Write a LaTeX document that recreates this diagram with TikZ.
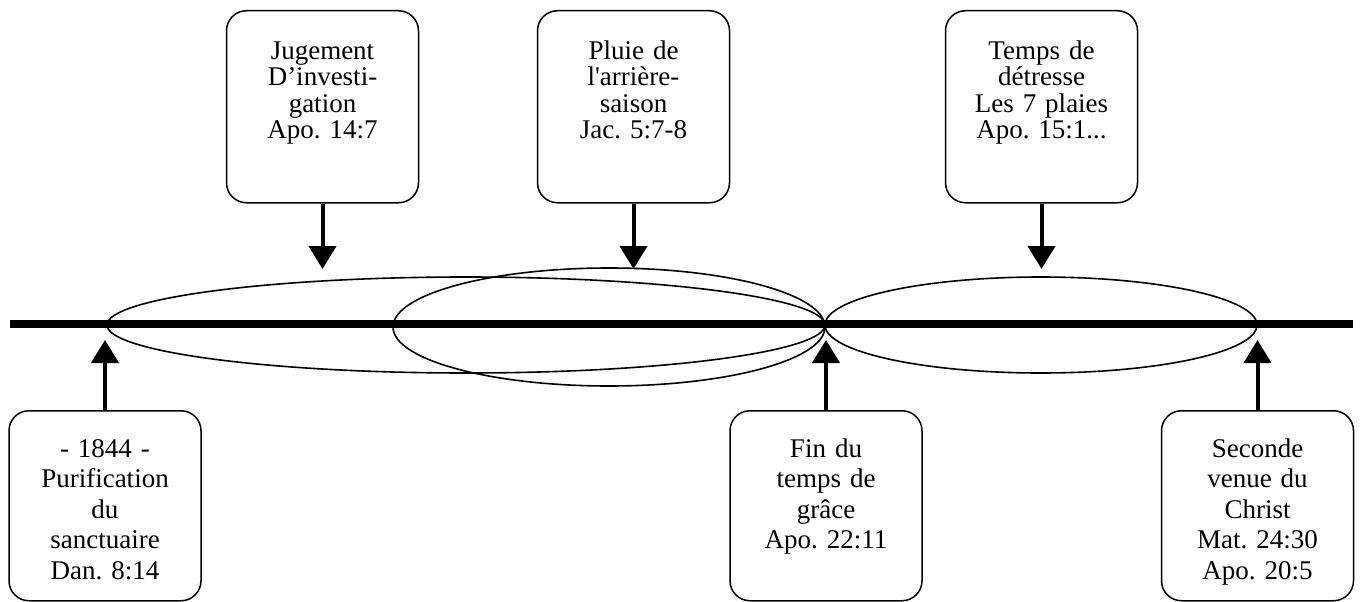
\documentclass[tikz,border=0pt]{standalone}
\usepackage{fontspec}
\setmainfont{Liberation Serif}[Ligatures=TeXOff]
\usetikzlibrary{arrows.meta}
\frenchspacing

\begin{document}
\begin{tikzpicture}[
    x = 1pt, y = -1pt,
    evt/.style = {draw, line width=1.5pt, rounded corners=20pt, anchor=north,
                  inner xsep=6pt, inner ysep=0pt, text width=180pt, align=center,
                  text height=48.5pt, text depth=143.5pt,
                  font=\fontsize{27}{26.5}\selectfont},
   evtb/.style = {evt, text height=46.5pt, text depth=143.5pt,
                  font=\fontsize{27}{30.5}\selectfont},
    arr/.style = {line width=4pt, -{Triangle[width=27pt,length=23pt]}},
    prd/.style = {line width=1.6pt}
                    ]
\useasboundingbox (0,0) rectangle (1361,602);
% time line
\coordinate (L) at (10,324);
\coordinate (R) at (1353,324);
\draw[line width=7.5pt] (L) -- (R);
% periods
\draw[prd] (466,325)  ellipse [x radius=359pt, y radius=48pt];
\draw[prd] (609,327)  ellipse [x radius=216pt, y radius=59pt];
\draw[prd] (1041,325) ellipse [x radius=216pt, y radius=48pt];
% events above
\node (n1) [evt] at (322.5,10)  {Jugement\\ D’investi-\\ gation\\ Apo. 14:7};
\node (n2) [evt] at (633.5,10)  {Pluie de\\ l'arrière-\\ saison\\ Jac. 5:7-8};
\node (n3) [evt] at (1041.5,10) {Temps de\\ détresse\\ Les 7 plaies\\ Apo. 15:1...};
% events below
\node (n4) [evtb] at (105,410)    {- 1844 -\\ Purification\\ du\\ sanctuaire\\ Dan. 8:14};
\node (n5) [evtb] at (826,410)    {Fin du\\ temps de\\ grâce\\ Apo. 22:11};
\node (n6) [evtb] at (1257.5,410) {Seconde\\ venue du\\ Christ\\ Mat. 24:30\\ Apo. 20:5};
% pointers
\coordinate (a1) at (322.5,269);
\coordinate (a2) at (633.5,269);
\coordinate (a3) at (1041.5,269);
\coordinate (b4) at (105,340);
\coordinate (b5) at (826,340);
\coordinate (b6) at (1257.5,340);
\draw[arr] (n1.south) -- (a1);
\draw[arr] (n2.south) -- (a2);
\draw[arr] (n3.south) -- (a3);
\draw[arr] (n4.north) -- (b4);
\draw[arr] (n5.north) -- (b5);
\draw[arr] (n6.north) -- (b6);
\end{tikzpicture}
\end{document}
